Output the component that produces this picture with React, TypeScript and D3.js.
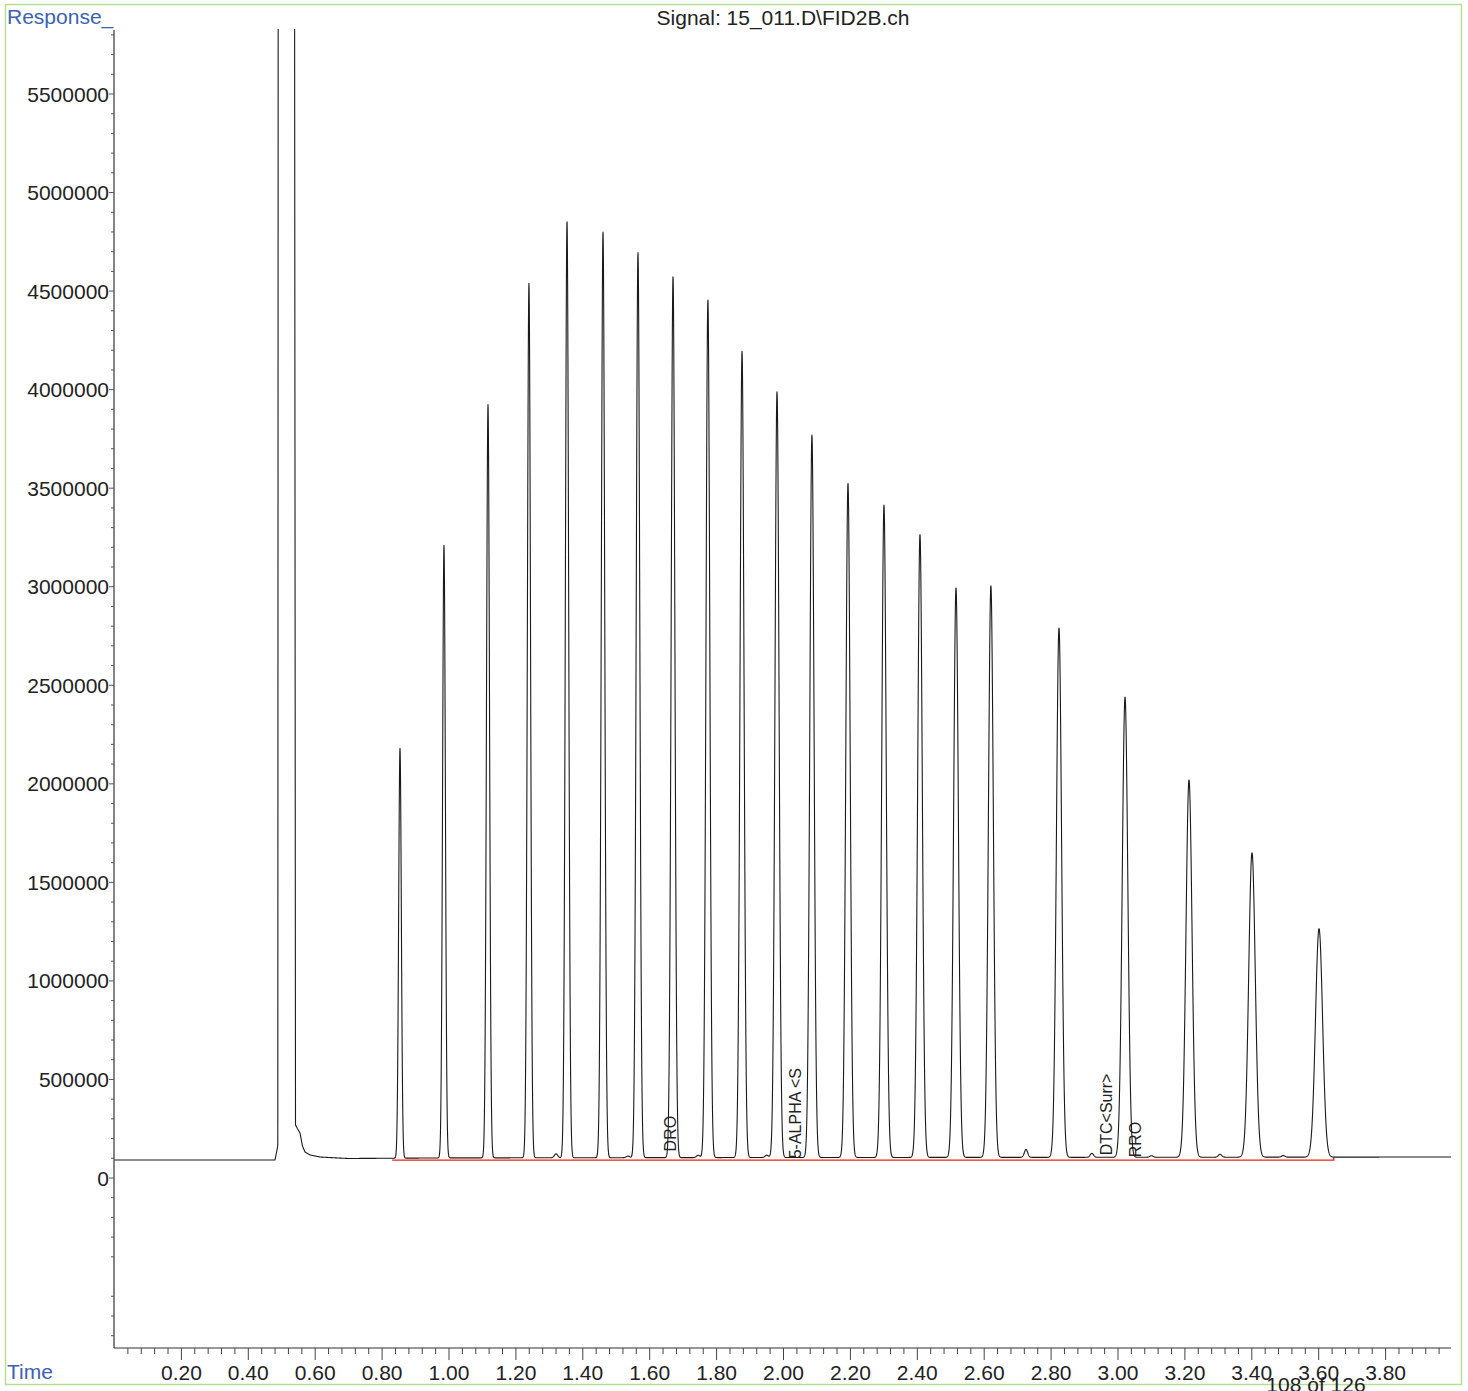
import React from 'react';
import * as d3 from 'd3';

// main peaks: retention time (min), apex response, width (sigma, min)
const peakTimes = [0.8535, 0.985, 1.1166, 1.239, 1.3528, 1.4604, 1.565, 1.6697, 1.774, 1.876, 1.9806, 2.085, 2.1928, 2.3004, 2.408, 2.5157, 2.62, 2.8236, 3.021, 3.2123, 3.4006, 3.601];
const peakApex = [2180000, 3210000, 3925000, 4540000, 4855000, 4800000, 4695000, 4575000, 4455000, 4195000, 3990000, 3770000, 3525000, 3415000, 3265000, 2995000, 3005000, 2790000, 2440000, 2020000, 1650000, 1265000];
const peakSigma = [0.0040, 0.0042, 0.0045, 0.0047, 0.0049, 0.0051, 0.0053, 0.0055, 0.0057, 0.0059, 0.0061, 0.0063, 0.0065, 0.0067, 0.0069, 0.0071, 0.0073, 0.0077, 0.0083, 0.0090, 0.0098, 0.0106];

// small bumps above baseline
const minorTimes = [1.32, 1.535, 1.745, 1.95, 2.725, 2.922, 3.10, 3.305, 3.494];
const minorHeights = [20000, 8000, 12000, 12000, 40000, 20000, 8000, 15000, 8000];

// baseline level
const baseTimes = [0, 0.48, 0.70, 1.0, 2.0, 3.0, 4.0];
const baseValues = [91000, 91000, 99000, 102000, 104000, 105000, 106500];

// solvent front (off scale)
const solventTimes = [0.4798, 0.4858, 0.4882, 0.4897, 0.5375, 0.5411, 0.5471, 0.5546, 0.562, 0.5695, 0.5845, 0.614, 0.674, 0.70];
const solventValues = [91000, 142000, 167000, 8000000, 8000000, 269000, 250000, 228000, 162000, 132000, 117000, 106500, 101000, 99000];

// compound labels
const labelNames = ['DRO', '5-ALPHA <S', 'DTC<Surr>', 'RRO'];
const labelTimes = [1.662, 2.036, 2.966, 3.052];
const labelValues = [135000, 100000, 115000, 105000];

// integration baseline
const integStart = 0.83;
const integEnd = 3.645;
const integLevel = 91000;

const W = 1468;
const H = 1391;
const FONT = '"Liberation Sans", Arial, Helvetica, sans-serif';

export default function App() {
  const x = d3.scaleLinear().domain([0, 4]).range([114.5, 1452.5]);
  const y = d3.scaleLinear().domain([0, 5500000]).range([1178, 94]);
  const plotTop = 30;
  const plotBottom = 1348;
  const plotLeft = 114;
  const plotRight = 1451;

  const base = d3.scaleLinear().domain(baseTimes).range(baseValues);
  const solvent = d3.scaleLinear().domain(solventTimes).range(solventValues);
  const s0 = solventTimes[0];
  const s1 = solventTimes[solventTimes.length - 1];

  const signal = (t: number) => {
    if (t >= s0 && t <= s1) return solvent(t);
    const b = base(t);
    let v = b;
    peakTimes.forEach((pt, i) => {
      const h = peakApex[i] - b;
      const d = (t - pt) / peakSigma[i];
      if (Math.abs(d) < 8) v += h * Math.exp(-0.5 * d * d);
    });
    minorTimes.forEach((pt, i) => {
      const d = (t - pt) / 0.005;
      if (Math.abs(d) < 8) v += minorHeights[i] * Math.exp(-0.5 * d * d);
    });
    return v;
  };

  const times = d3.range(0, 4.0001, 0.0005);
  const keyTimes = times.concat(solventTimes).sort((a, b) => a - b);
  const line = d3.line<number>().x(t => x(t)).y(t => y(signal(t)));
  const tracePath = line(keyTimes) || '';

  const majorX = d3.range(1, 20).map(i => i * 0.2);
  const minorX = d3.range(1, 100).filter(i => i % 5 !== 0).map(i => i * 0.04);
  const majorY = d3.range(0, 12).map(i => i * 500000);
  const minorY = d3.range(-8, 59).filter(i => i % 5 !== 0).map(i => i * 100000);

  return (
    <svg width={W} height={H} style={{ position: 'absolute', left: 0, top: 0, background: '#fff' }} fontFamily={FONT}>
      <defs>
        <clipPath id="plot">
          <rect x={plotLeft} y={plotTop - 1} width={plotRight - plotLeft} height={plotBottom - plotTop} />
        </clipPath>
      </defs>
      <rect x={5.5} y={4.5} width={1456} height={1380} fill="none" stroke="#b6dd92" strokeWidth={1.5} />

      <text x={783} y={25} fontSize={21} textAnchor="middle" fill="#222">Signal: 15_011.D\FID2B.ch</text>
      <text x={7} y={24} fontSize={21} fill="#3b62b2">Response_</text>
      <text x={7} y={1379} fontSize={21} fill="#3b62b2">Time</text>

      {/* axes */}
      <line x1={plotLeft} x2={plotLeft} y1={plotTop} y2={plotBottom} stroke="#333" strokeWidth={1.2} />
      <line x1={plotLeft} x2={plotRight} y1={plotBottom} y2={plotBottom} stroke="#333" strokeWidth={1.2} />

      {minorY.map(v => (
        <line key={'my' + v} x1={plotLeft - 3} x2={plotLeft} y1={y(v)} y2={y(v)} stroke="#555" />
      ))}
      {majorY.map(v => (
        <g key={'y' + v}>
          <line x1={plotLeft - 5} x2={plotLeft} y1={y(v)} y2={y(v)} stroke="#555" />
          <text x={109} y={y(v)} dy="0.36em" fontSize={21} textAnchor="end" fill="#222">{v}</text>
        </g>
      ))}

      {minorX.map(t => (
        <line key={'mx' + t} x1={x(t)} x2={x(t)} y1={plotBottom} y2={plotBottom + 6} stroke="#444" />
      ))}
      {majorX.map(t => (
        <g key={'x' + t}>
          <line x1={x(t)} x2={x(t)} y1={plotBottom} y2={plotBottom + 12} stroke="#444" />
          <text x={x(t)} y={1380} fontSize={21} textAnchor="middle" fill="#222">{t.toFixed(2)}</text>
        </g>
      ))}

      {/* integration baseline */}
      <polyline
        points={[[x(integStart), y(integLevel)], [x(integEnd), y(integLevel)], [x(integEnd), y(integLevel) - 3]].map(p => p.join(',')).join(' ')}
        fill="none" stroke="#e8211f" strokeWidth={1.3} />

      <path d={tracePath} fill="none" stroke="#1a1a1a" strokeWidth={1.1} clipPath="url(#plot)" strokeLinejoin="round" />

      {labelNames.map((name, i) => (
        <text key={name} transform={`translate(${x(labelTimes[i])},${y(labelValues[i])}) rotate(-90)`}
          dy="0.36em" fontSize={16} fill="#222">{name}</text>
      ))}

      <text x={1316} y={1392} fontSize={21} textAnchor="middle" fill="#222">108 of 126</text>
    </svg>
  );
}
